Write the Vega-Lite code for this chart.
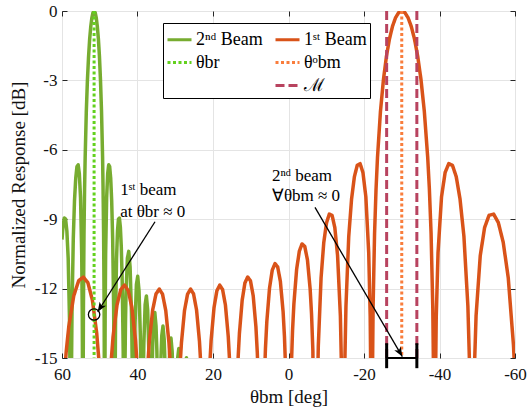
{
  "$schema": "https://vega.github.io/schema/vega-lite/v6.json",
  "width": 453,
  "height": 347,
  "autosize": {"type": "none"},
  "padding": {"left": 62, "top": 11, "right": 13, "bottom": 58},
  "background": "white",
  "config": {
    "font": "Liberation Serif",
    "view": {"stroke": "#262626", "strokeWidth": 1},
    "axis": {
      "domain": false, "grid": true, "gridColor": "#e4e4e4", "gridWidth": 1,
      "ticks": true, "tickColor": "#262626", "tickSize": -5, "tickWidth": 1,
      "labelFont": "Liberation Serif", "labelFontSize": 17, "labelColor": "#111",
      "titleFont": "Liberation Serif", "titleFontSize": 19, "titleFontWeight": "normal", "titleColor": "#111"
    }
  },
  "datasets": {
    "beam2": [
      {"theta":60.00,"db":-9.88},{"theta":59.75,"db":-9.34},{"theta":59.40,"db":-8.95},{"theta":59.05,"db":-8.99},{"theta":58.71,"db":-9.51},{"theta":58.36,"db":-10.70},{"theta":58.02,"db":-13.29},{"theta":57.85,"db":-16.15},{"theta":57.68,"db":-30},
      {"theta":57.51,"db":-15.93},{"theta":57.34,"db":-12.86},{"theta":57.01,"db":-9.83},{"theta":56.69,"db":-8.20},{"theta":56.36,"db":-7.23},{"theta":56.04,"db":-6.73},{"theta":55.72,"db":-6.65},{"theta":55.41,"db":-7.03},{"theta":55.09,"db":-8.07},{"theta":54.78,"db":-10.49},{"theta":54.63,"db":-13.24},{"theta":54.54,"db":-17.08},{"theta":54.47,"db":-30},
      {"theta":54.41,"db":-16.91},{"theta":54.32,"db":-12.81},{"theta":54.17,"db":-9.61},{"theta":54.02,"db":-7.70},{"theta":53.86,"db":-6.31},{"theta":53.56,"db":-4.34},{"theta":53.26,"db":-2.97},{"theta":52.96,"db":-1.96},{"theta":52.67,"db":-1.21},{"theta":52.37,"db":-0.66},{"theta":52.08,"db":-0.29},{"theta":51.79,"db":-0.07},{"theta":51.50,"db":0},{"theta":51.21,"db":-0.07},{"theta":50.93,"db":-0.29},{"theta":50.65,"db":-0.66},{"theta":50.36,"db":-1.21},{"theta":50.08,"db":-1.96},{"theta":49.81,"db":-2.97},{"theta":49.53,"db":-4.34},{"theta":49.25,"db":-6.31},{"theta":49.12,"db":-7.70},{"theta":48.98,"db":-9.61},{"theta":48.84,"db":-12.81},{"theta":48.76,"db":-16.91},{"theta":48.71,"db":-30},
      {"theta":48.65,"db":-17.08},{"theta":48.57,"db":-13.24},{"theta":48.44,"db":-10.49},{"theta":48.17,"db":-8.07},{"theta":47.90,"db":-7.03},{"theta":47.63,"db":-6.65},{"theta":47.37,"db":-6.73},{"theta":47.10,"db":-7.23},{"theta":46.84,"db":-8.20},{"theta":46.58,"db":-9.83},{"theta":46.32,"db":-12.86},{"theta":46.19,"db":-15.93},{"theta":46.06,"db":-30},
      {"theta":45.93,"db":-16.15},{"theta":45.81,"db":-13.29},{"theta":45.55,"db":-10.70},{"theta":45.30,"db":-9.51},{"theta":45.04,"db":-8.99},{"theta":44.79,"db":-8.95},{"theta":44.54,"db":-9.34},{"theta":44.29,"db":-10.21},{"theta":44.04,"db":-11.75},{"theta":43.79,"db":-14.70},{"theta":43.66,"db":-17.73},{"theta":43.54,"db":-30},
      {"theta":43.29,"db":-14.96},{"theta":43.17,"db":-13.36},{"theta":43.05,"db":-12.30},{"theta":42.68,"db":-10.69},{"theta":42.32,"db":-10.39},{"theta":41.96,"db":-11.06},{"theta":41.60,"db":-13.04},{"theta":41.48,"db":-14.22},{"theta":41.36,"db":-15.95},{"theta":41.12,"db":-30},
      {"theta":40.88,"db":-16.17},{"theta":40.76,"db":-14.54},{"theta":40.64,"db":-13.47},{"theta":40.29,"db":-11.82},{"theta":39.94,"db":-11.47},{"theta":39.59,"db":-12.10},{"theta":39.24,"db":-14.05},{"theta":39.13,"db":-15.21},{"theta":39.01,"db":-16.93},{"theta":38.78,"db":-30},
      {"theta":38.55,"db":-17.10},{"theta":38.44,"db":-15.47},{"theta":38.32,"db":-14.39},{"theta":37.98,"db":-12.70},{"theta":37.64,"db":-12.32},{"theta":37.30,"db":-12.93},{"theta":36.97,"db":-14.85},{"theta":36.86,"db":-16.01},{"theta":36.74,"db":-17.72},{"theta":36.52,"db":-30},
      {"theta":36.19,"db":-16.22},{"theta":35.97,"db":-14.36},{"theta":35.74,"db":-13.43},{"theta":35.41,"db":-13.03},{"theta":35.09,"db":-13.62},{"theta":34.87,"db":-14.69},{"theta":34.65,"db":-16.67},{"theta":34.32,"db":-30},
      {"theta":34.00,"db":-16.85},{"theta":33.78,"db":-14.99},{"theta":33.57,"db":-14.04},{"theta":33.25,"db":-13.62},{"theta":32.93,"db":-14.20},{"theta":32.71,"db":-15.26},{"theta":32.50,"db":-17.24},{"theta":32.18,"db":-30},
      {"theta":31.87,"db":-17.39},{"theta":31.65,"db":-15.52},{"theta":31.44,"db":-14.57},{"theta":31.13,"db":-14.14},{"theta":30.82,"db":-14.71},{"theta":30.61,"db":-15.76},{"theta":30.40,"db":-17.73},{"theta":30.09,"db":-30},
      {"theta":29.57,"db":-15.99},{"theta":29.37,"db":-15.03},{"theta":29.06,"db":-14.59},{"theta":28.75,"db":-15.15},{"theta":28.55,"db":-16.20},{"theta":28.04,"db":-30},
      {"theta":27.33,"db":-15.45},{"theta":27.03,"db":-14.99},{"theta":26.73,"db":-15.47},{"theta":26.03,"db":-30}
    ],
    "beam1": [
      {"theta":-60.00,"db":-15.88},{"theta":-59.60,"db":-14.46},{"theta":-58.21,"db":-11.53},{"theta":-56.88,"db":-10.00},{"theta":-55.59,"db":-9.15},{"theta":-54.34,"db":-8.78},{"theta":-53.13,"db":-8.83},{"theta":-51.95,"db":-9.36},{"theta":-50.80,"db":-10.57},{"theta":-49.69,"db":-13.17},{"theta":-49.13,"db":-16.03},{"theta":-48.59,"db":-30},
      {"theta":-48.37,"db":-19.84},{"theta":-48.05,"db":-15.82},{"theta":-47.52,"db":-12.76},{"theta":-46.47,"db":-9.74},{"theta":-45.43,"db":-8.12},{"theta":-44.43,"db":-7.16},{"theta":-43.43,"db":-6.67},{"theta":-42.45,"db":-6.60},{"theta":-41.49,"db":-6.98},{"theta":-40.54,"db":-8.03},{"theta":-39.61,"db":-10.45},{"theta":-39.14,"db":-13.21},{"theta":-38.87,"db":-17.05},{"theta":-38.68,"db":-30},
      {"theta":-38.50,"db":-16.91},{"theta":-38.22,"db":-12.81},{"theta":-37.77,"db":-9.61},{"theta":-37.32,"db":-7.70},{"theta":-36.87,"db":-6.31},{"theta":-35.98,"db":-4.34},{"theta":-35.10,"db":-2.97},{"theta":-34.23,"db":-1.96},{"theta":-33.37,"db":-1.21},{"theta":-32.51,"db":-0.66},{"theta":-31.67,"db":-0.29},{"theta":-30.83,"db":-0.07},{"theta":-30.00,"db":0},{"theta":-29.18,"db":-0.07},{"theta":-28.36,"db":-0.29},{"theta":-27.55,"db":-0.66},{"theta":-26.74,"db":-1.21},{"theta":-25.94,"db":-1.96},{"theta":-25.15,"db":-2.97},{"theta":-24.36,"db":-4.34},{"theta":-23.58,"db":-6.31},{"theta":-23.19,"db":-7.70},{"theta":-22.80,"db":-9.61},{"theta":-22.41,"db":-12.81},{"theta":-22.18,"db":-16.91},{"theta":-22.02,"db":-30},
      {"theta":-21.87,"db":-17.05},{"theta":-21.64,"db":-13.21},{"theta":-21.25,"db":-10.45},{"theta":-20.49,"db":-8.03},{"theta":-19.72,"db":-6.98},{"theta":-18.97,"db":-6.60},{"theta":-18.21,"db":-6.67},{"theta":-17.46,"db":-7.16},{"theta":-16.71,"db":-8.12},{"theta":-15.96,"db":-9.74},{"theta":-15.22,"db":-12.76},{"theta":-14.85,"db":-15.82},{"theta":-14.63,"db":-19.84},{"theta":-14.48,"db":-30},
      {"theta":-14.11,"db":-16.03},{"theta":-13.74,"db":-13.17},{"theta":-13.00,"db":-10.57},{"theta":-12.27,"db":-9.36},{"theta":-11.54,"db":-8.83},{"theta":-10.81,"db":-8.78},{"theta":-10.08,"db":-9.15},{"theta":-9.35,"db":-10.00},{"theta":-8.63,"db":-11.53},{"theta":-7.90,"db":-14.46},{"theta":-7.54,"db":-17.48},{"theta":-7.18,"db":-30},
      {"theta":-6.46,"db":-14.70},{"theta":-6.10,"db":-13.09},{"theta":-5.74,"db":-12.03},{"theta":-5.02,"db":-10.76},{"theta":-4.30,"db":-10.17},{"theta":-3.58,"db":-10.07},{"theta":-2.87,"db":-10.38},{"theta":-2.15,"db":-11.17},{"theta":-1.43,"db":-12.66},{"theta":-1.07,"db":-13.82},{"theta":-0.72,"db":-15.54},{"theta":0,"db":-30},
      {"theta":0.72,"db":-15.71},{"theta":1.07,"db":-14.08},{"theta":1.43,"db":-13.00},{"theta":2.15,"db":-11.69},{"theta":2.87,"db":-11.06},{"theta":3.58,"db":-10.92},{"theta":4.30,"db":-11.20},{"theta":5.02,"db":-11.97},{"theta":5.74,"db":-13.42},{"theta":6.10,"db":-14.57},{"theta":6.46,"db":-16.28},{"theta":7.18,"db":-30},
      {"theta":7.90,"db":-16.39},{"theta":8.27,"db":-14.75},{"theta":8.63,"db":-13.65},{"theta":9.35,"db":-12.31},{"theta":10.08,"db":-11.66},{"theta":10.81,"db":-11.50},{"theta":11.54,"db":-11.75},{"theta":12.27,"db":-12.50},{"theta":13.00,"db":-13.93},{"theta":13.37,"db":-15.07},{"theta":13.74,"db":-16.76},{"theta":14.48,"db":-30},
      {"theta":15.22,"db":-16.83},{"theta":15.59,"db":-15.17},{"theta":15.96,"db":-14.07},{"theta":16.71,"db":-12.71},{"theta":17.46,"db":-12.04},{"theta":18.21,"db":-11.85},{"theta":18.97,"db":-12.09},{"theta":19.72,"db":-12.81},{"theta":20.49,"db":-14.22},{"theta":20.87,"db":-15.35},{"theta":21.25,"db":-17.04},{"theta":22.02,"db":-30},
      {"theta":22.80,"db":-17.07},{"theta":23.19,"db":-15.41},{"theta":23.58,"db":-14.29},{"theta":24.36,"db":-12.92},{"theta":25.15,"db":-12.23},{"theta":25.94,"db":-12.02},{"theta":26.74,"db":-12.24},{"theta":27.55,"db":-12.95},{"theta":28.36,"db":-14.34},{"theta":28.77,"db":-15.46},{"theta":29.18,"db":-17.14},{"theta":30.00,"db":-30},
      {"theta":30.83,"db":-17.14},{"theta":31.25,"db":-15.46},{"theta":31.67,"db":-14.34},{"theta":32.51,"db":-12.95},{"theta":33.37,"db":-12.24},{"theta":34.23,"db":-12.02},{"theta":35.10,"db":-12.23},{"theta":35.98,"db":-12.92},{"theta":36.87,"db":-14.29},{"theta":37.32,"db":-15.41},{"theta":37.77,"db":-17.07},{"theta":38.68,"db":-30},
      {"theta":39.61,"db":-17.04},{"theta":40.07,"db":-15.35},{"theta":40.54,"db":-14.22},{"theta":41.49,"db":-12.81},{"theta":42.45,"db":-12.09},{"theta":43.43,"db":-11.85},{"theta":44.43,"db":-12.04},{"theta":45.43,"db":-12.71},{"theta":46.47,"db":-14.07},{"theta":46.99,"db":-15.17},{"theta":47.52,"db":-16.83},{"theta":48.59,"db":-30},
      {"theta":49.69,"db":-16.76},{"theta":50.24,"db":-15.07},{"theta":50.80,"db":-13.93},{"theta":51.95,"db":-12.50},{"theta":53.13,"db":-11.75},{"theta":54.34,"db":-11.50},{"theta":55.59,"db":-11.66},{"theta":56.88,"db":-12.31},{"theta":58.21,"db":-13.65},{"theta":58.90,"db":-14.75},{"theta":59.60,"db":-16.39},{"theta":60.00,"db":-17.77}
    ],
    "refs": [
      {"theta":51.5,"series":"θbr"},
      {"theta":-30,"series":"θᵒbm"},
      {"theta":-26,"series":"ℳ"},
      {"theta":-34,"series":"ℳ"}
    ],
    "notes": [
      {"theta":44.6,"db":-7.95,"label":"1ˢᵗ beam"},
      {"theta":44.6,"db":-8.9,"label":"at θbr ≈ 0"},
      {"theta":4.4,"db":-7.35,"label":"2ⁿᵈ beam"},
      {"theta":4.4,"db":-8.21,"label":"∀θbm ≈ 0"}
    ],
    "arrows": [
      {"theta":35.36,"db":-9.11,"theta2":50.54,"db2":-13.0},
      {"theta":-7.02,"db":-8.49,"theta2":-30.15,"db2":-14.94}
    ]
  },
  "layer": [
    {
      "layer": [
        {
          "data": {"name": "beam2"},
          "mark": {"type": "line", "strokeWidth": 3.5, "clip": true, "strokeJoin": "round"},
          "encoding": {
            "x": {"field": "theta", "type": "quantitative",
                  "scale": {"domain": [-60, 60], "reverse": true, "nice": false, "zero": false},
                  "axis": {"values": [-60, -40, -20, 0, 20, 40, 60], "labelExpr": "datum.value + ''", "labelFlush": false, "labelOverlap": false, "labelPadding": 13, "title": "θbm [deg]", "titlePadding": 5}},
            "y": {"field": "db", "type": "quantitative",
                  "scale": {"domain": [-15, 0], "nice": false, "zero": false},
                  "axis": {"values": [-15, -12, -9, -6, -3, 0], "labelExpr": "datum.value + ''", "labelPadding": 10, "title": "Normalized Response [dB]", "titlePadding": 6}},
            "color": {"datum": "2ⁿᵈ Beam",
                      "scale": {"domain": ["2ⁿᵈ Beam", "θbr", " ", "1ˢᵗ Beam", "θᵒbm", "ℳ"], "range": ["#77AC30", "#63D11E", "#ffffff", "#D95319", "#F97D3C", "#B8435F"]},
                      "legend": {"title": null, "orient": "none", "legendX": 101, "legendY": 12, "columns": 2, "symbolType": "stroke", "symbolSize": 576, "symbolStrokeWidth": 3, "labelFont": "Liberation Serif", "labelFontSize": 18, "labelColor": "#000", "labelOffset": 3, "padding": 3, "rowPadding": -5, "columnPadding": 6, "strokeColor": "#000", "fillColor": "#fff"}},
            "strokeDash": {"datum": "2ⁿᵈ Beam",
                      "scale": {"domain": ["2ⁿᵈ Beam", "θbr", " ", "1ˢᵗ Beam", "θᵒbm", "ℳ"], "range": [[1, 0], [3, 2.5], [1, 0], [1, 0], [3, 2.5], [9, 4]]},
                      "legend": {"title": null, "orient": "none", "legendX": 101, "legendY": 12, "columns": 2, "symbolType": "stroke", "symbolSize": 576, "symbolStrokeWidth": 3, "labelFont": "Liberation Serif", "labelFontSize": 18, "labelColor": "#000", "labelOffset": 3, "padding": 3, "rowPadding": -5, "columnPadding": 6, "strokeColor": "#000", "fillColor": "#fff"}}
          }
        },
        {
          "data": {"name": "beam1"},
          "mark": {"type": "line", "strokeWidth": 3.5, "clip": true, "strokeJoin": "round"},
          "encoding": {
            "x": {"field": "theta", "type": "quantitative"},
            "y": {"field": "db", "type": "quantitative"},
            "color": {"datum": "1ˢᵗ Beam", "legend": {"title": null}},
            "strokeDash": {"datum": "1ˢᵗ Beam", "legend": {"title": null}}
          }
        },
        {
          "data": {"name": "refs"},
          "mark": {"type": "rule", "strokeWidth": 3},
          "encoding": {
            "x": {"field": "theta", "type": "quantitative"},
            "color": {"field": "series", "type": "nominal", "legend": {"title": null}},
            "strokeDash": {"field": "series", "type": "nominal", "legend": {"title": null}}
          }
        },
        {
          "data": {"values": [{"theta": -26, "theta2": -34, "db": -15}]},
          "mark": {"type": "rule", "strokeWidth": 2, "color": "black"},
          "encoding": {
            "x": {"field": "theta", "type": "quantitative"},
            "x2": {"field": "theta2"},
            "y": {"field": "db", "type": "quantitative"}
          }
        },
        {
          "data": {"values": [{"theta": -26, "db": -14.36, "db2": -15.44}, {"theta": -34, "db": -14.36, "db2": -15.44}]},
          "mark": {"type": "rule", "strokeWidth": 3, "color": "black"},
          "encoding": {
            "x": {"field": "theta", "type": "quantitative"},
            "y": {"field": "db", "type": "quantitative"},
            "y2": {"field": "db2"}
          }
        },
        {
          "data": {"name": "arrows"},
          "mark": {"type": "rule", "strokeWidth": 1.3, "color": "black"},
          "encoding": {
            "x": {"field": "theta", "type": "quantitative"},
            "y": {"field": "db", "type": "quantitative"},
            "x2": {"field": "theta2"},
            "y2": {"field": "db2"}
          }
        },
        {
          "data": {"values": [{"theta": 50.54, "db": -13.0}]},
          "mark": {"type": "point", "shape": "M0,0L-0.8,2L0,1.5L0.8,2Z", "size": 90, "filled": true, "color": "black", "opacity": 1, "angle": 212.5},
          "encoding": {
            "x": {"field": "theta", "type": "quantitative"},
            "y": {"field": "db", "type": "quantitative"}
          }
        },
        {
          "data": {"values": [{"theta": -30.15, "db": -14.94}]},
          "mark": {"type": "point", "shape": "M0,0L-0.8,2L0,1.5L0.8,2Z", "size": 90, "filled": true, "color": "black", "opacity": 1, "angle": 149.7},
          "encoding": {
            "x": {"field": "theta", "type": "quantitative"},
            "y": {"field": "db", "type": "quantitative"}
          }
        },
        {
          "data": {"values": [{"theta": 51.5, "db": -13.12}]},
          "mark": {"type": "point", "shape": "circle", "size": 130, "filled": false, "stroke": "black", "strokeWidth": 1.3, "opacity": 1},
          "encoding": {
            "x": {"field": "theta", "type": "quantitative"},
            "y": {"field": "db", "type": "quantitative"}
          }
        },
        {
          "data": {"name": "notes"},
          "mark": {"type": "text", "align": "left", "baseline": "alphabetic", "fontSize": 17, "font": "Liberation Serif", "color": "#000"},
          "encoding": {
            "x": {"field": "theta", "type": "quantitative"},
            "y": {"field": "db", "type": "quantitative"},
            "text": {"field": "label"}
          }
        }
      ]
    },
    {
      "data": {"name": "refs"},
      "mark": {"type": "point", "opacity": 0},
      "encoding": {
        "x": {"field": "theta", "type": "quantitative",
              "axis": {"orient": "top", "values": [-60, -40, -20, 0, 20, 40, 60], "labels": false, "grid": false, "title": null, "domain": false}},
        "y": {"datum": -7, "type": "quantitative",
              "axis": {"orient": "right", "values": [-15, -12, -9, -6, -3, 0], "labels": false, "grid": false, "title": null, "domain": false}}
      }
    }
  ],
  "resolve": {"axis": {"x": "independent", "y": "independent"}}
}
